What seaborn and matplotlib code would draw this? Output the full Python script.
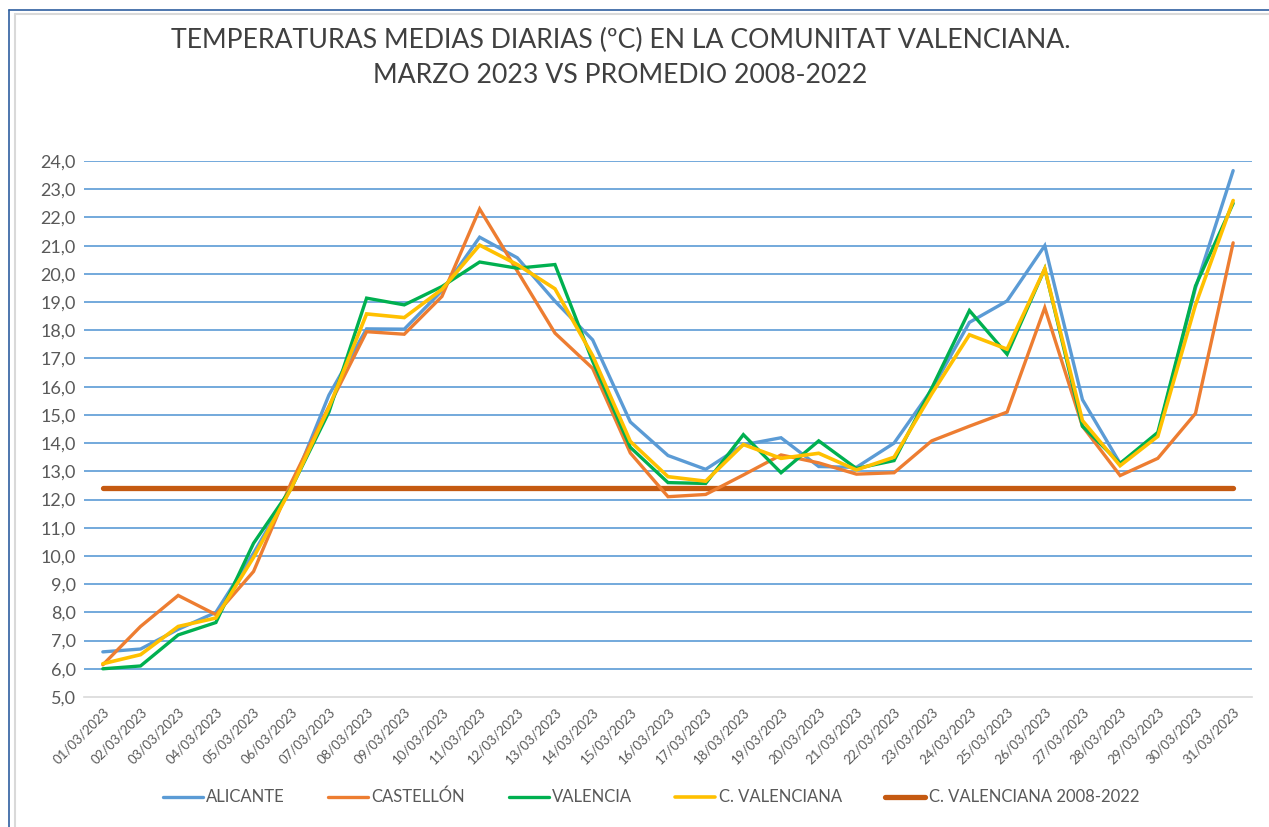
"""
Temperaturas medias diarias en la Comunitat Valenciana, marzo 2023
frente al promedio 2008-2022.
"""

import pandas as pd
import seaborn as sns
import matplotlib.pyplot as plt
from matplotlib.lines import Line2D

# --- datos ---
dias = [f"{d:02d}/03/2023" for d in range(1, 32)]

alicante = [6.6, 6.7, 7.4, 8.0, 10.1, 12.4, 15.7, 18.05, 18.04, 19.4, 21.3,
            20.57, 19.03, 17.66, 14.75, 13.56, 13.07, 13.94, 14.19, 13.17, 13.14,
            14.0, 15.9, 18.28, 19.04, 21.0, 15.54, 13.28, 14.3, 19.5, 23.66]
castellon = [6.14, 7.5, 8.6, 7.92, 9.45, 12.6, 15.3, 17.95, 17.86, 19.2, 22.3,
             20.1, 17.9, 16.65, 13.65, 12.1, 12.18, 12.87, 13.58, 13.3, 12.9,
             12.95, 14.08, 14.6, 15.1, 18.8, 14.6, 12.85, 13.46, 15.05, 21.1]
valencia = [6.0, 6.1, 7.2, 7.64, 10.45, 12.4, 15.1, 19.14, 18.9, 19.55, 20.42,
            20.2, 20.33, 16.9, 13.85, 12.6, 12.57, 14.3, 12.95, 14.08, 13.1,
            13.38, 15.95, 18.7, 17.15, 20.18, 14.6, 13.28, 14.38, 19.57, 22.5]
c_valenciana = [6.18, 6.5, 7.5, 7.8, 9.95, 12.4, 15.26, 18.58, 18.45, 19.45, 21.02,
                20.33, 19.47, 17.1, 14.06, 12.81, 12.65, 13.95, 13.46, 13.64, 13.05,
                13.5, 15.75, 17.84, 17.33, 20.18, 14.8, 13.2, 14.24, 18.9, 22.6]
promedio_2008_2022 = 12.4

series = {
    "ALICANTE": alicante,
    "CASTELLÓN": castellon,
    "VALENCIA": valencia,
    "C. VALENCIANA": c_valenciana,
    "C. VALENCIANA 2008-2022": [promedio_2008_2022] * len(dias),
}
colores = {
    "ALICANTE": "#5B9BD5",
    "CASTELLÓN": "#ED7D31",
    "VALENCIA": "#00B050",
    "C. VALENCIANA": "#FFC000",
    "C. VALENCIANA 2008-2022": "#C55A11",
}
grosor = {
    "ALICANTE": 2.4,
    "CASTELLÓN": 2.4,
    "VALENCIA": 2.4,
    "C. VALENCIANA": 2.6,
    "C. VALENCIANA 2008-2022": 3.8,
}
orden_dibujo = ["C. VALENCIANA 2008-2022", "ALICANTE", "CASTELLÓN", "VALENCIA", "C. VALENCIANA"]

sns.set_style("white")
plt.rcParams["font.family"] = ["Lato", "DejaVu Sans"]

rows = []
for nombre, valores in series.items():
    for i, v in enumerate(valores):
        rows.append({"idx": i, "valor": v, "serie": nombre})
df = pd.DataFrame(rows)

fig = plt.figure(figsize=(12.69, 8.27), dpi=100)
ax = fig.add_axes([0.0662, 0.1572, 0.9204, 0.6481])

for nombre in orden_dibujo:
    sns.lineplot(data=df[df["serie"] == nombre], x="idx", y="valor",
                 color=colores[nombre], linewidth=grosor[nombre], ax=ax,
                 legend=False, solid_capstyle="round",
                 solid_joinstyle="miter" if nombre != "C. VALENCIANA 2008-2022" else "round")

ax.set_xlim(-0.5, len(dias) - 0.5)
ax.set_ylim(5, 24)
ax.set_yticks([float(v) for v in range(5, 25)])
ax.set_yticklabels([f"{v:.1f}".replace(".", ",") for v in range(5, 25)],
                   fontsize=13, color="#595959")
ax.set_xticks(range(len(dias)))
ax.set_xticklabels(dias, rotation=45, ha="right", rotation_mode="anchor",
                   fontsize=9.5, color="#595959")
ax.tick_params(axis="both", length=0, pad=6)
ax.set_xlabel("")
ax.set_ylabel("")

# rejilla horizontal azul
for v in range(6, 25):
    ax.axhline(v, color="#5B9BD5", linewidth=1.2, zorder=0)
for s in ["top", "right", "left"]:
    ax.spines[s].set_visible(False)
ax.spines["bottom"].set_color("#D9D9D9")
ax.spines["bottom"].set_linewidth(1.2)

fig.text(0.489, 0.951, "TEMPERATURAS MEDIAS DIARIAS (ºC) EN LA COMUNITAT VALENCIANA.",
         ha="center", va="center", fontsize=19.2, color="#404040")
fig.text(0.489, 0.909, "MARZO 2023 VS PROMEDIO 2008-2022",
         ha="center", va="center", fontsize=19.2, color="#404040")

handles = [Line2D([0], [0], color=colores[n], linewidth=grosor[n], solid_capstyle="round")
           for n in series]
fig.legend(handles, list(series.keys()), loc="center", bbox_to_anchor=(0.513, 0.036),
           ncol=5, frameon=False, fontsize=12, handlelength=2.4, handletextpad=0.2,
           columnspacing=2.6, labelcolor="#595959")

# marco del grafico
fig.add_artist(Line2D([0.007, 0.007], [0, 0.988], color="#2F5F9F", linewidth=1.2))
fig.add_artist(Line2D([0.007, 1.0], [0.988, 0.988], color="#2F5F9F", linewidth=1.2))
fig.add_artist(Line2D([0.0115, 0.0115], [0, 0.983], color="#D9D9D9", linewidth=1.5))
fig.add_artist(Line2D([0.0115, 1.0], [0.983, 0.983], color="#D9D9D9", linewidth=1.5))

fig.savefig("out.png", dpi=100)
plt.close(fig)
